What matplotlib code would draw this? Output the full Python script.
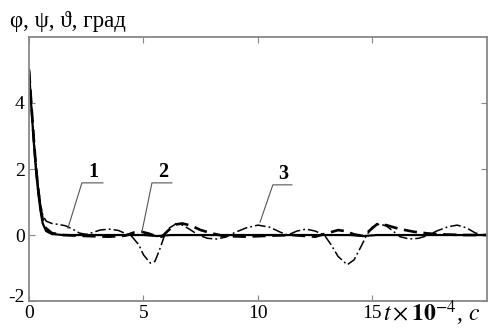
import matplotlib
matplotlib.use("Agg")
import matplotlib.pyplot as plt
import matplotlib.transforms as mtransforms

plt.rcParams['mathtext.fontset'] = 'stix'
plt.rcParams['font.family'] = ['Liberation Serif', 'DejaVu Serif']

# curve 1 (solid)
t1 = [0, 0.1, 0.2, 0.3, 0.4, 0.5, 0.6, 0.75, 1.0, 1.5, 3.0, 5.0, 5.6, 6.2,
      10.0, 14.0, 14.6, 15.2, 20.0]
y1 = [5.0, 3.9, 2.9, 2.0, 1.3, 0.75, 0.35, 0.12, 0.03, 0.0, 0.0, 0.0, -0.03, 0.0,
      0.0, 0.0, -0.03, 0.0, 0.0]

# curve 2 (dashed)
t2 = [0, 0.1, 0.2, 0.3, 0.4, 0.5, 0.6, 0.75, 1.0, 1.5, 2.5, 3.5, 4.2, 4.6, 4.9,
      5.2, 5.5, 5.8, 6.1, 6.4, 6.7, 7.1, 7.5, 8.0, 8.5, 9.5, 10.5, 11.5, 12.5,
      13.0, 13.5, 13.8, 14.2, 14.6, 14.9, 15.2, 15.6, 16.2, 16.8, 17.4, 18.0,
      19.0, 20.0]
y2 = [5.0, 4.0, 3.0, 2.1, 1.4, 0.85, 0.45, 0.2, 0.06, 0.0, -0.03, -0.05, -0.02,
      0.08, 0.1, 0.05, -0.02, -0.05, 0.15, 0.32, 0.35, 0.28, 0.15, 0.05, -0.03,
      -0.05, -0.02, 0.0, -0.05, 0.05, 0.15, 0.12, 0.02, -0.03, 0.15, 0.33, 0.3,
      0.18, 0.1, 0.05, 0.02, 0.0, 0.0]

# curve 3 (dash-dot)
t3 = [0, 0.1, 0.2, 0.3, 0.4, 0.5, 0.6, 0.75, 1.0, 1.3, 1.6, 1.9, 2.2, 2.5, 2.8,
      3.1, 3.5, 3.9, 4.2, 4.5, 4.8, 5.0, 5.3, 5.5, 5.7, 5.9, 6.1, 6.4, 6.7, 7.0,
      7.4, 7.8, 8.2, 8.6, 9.0, 9.5, 10.0, 10.5, 11.0, 11.3, 11.7, 12.1, 12.5,
      12.9, 13.2, 13.5, 13.9, 14.2, 14.5, 14.75, 15.0, 15.3, 15.6, 15.9, 16.2,
      16.6, 17.0, 17.4, 17.8, 18.3, 18.7, 19.1, 19.5, 19.8, 20.0]
y3 = [5.0, 4.0, 3.0, 2.2, 1.5, 0.95, 0.6, 0.42, 0.35, 0.32, 0.28, 0.18, 0.06,
      0.02, 0.08, 0.15, 0.18, 0.14, 0.05, -0.05, -0.3, -0.6, -0.85, -0.8, -0.45,
      -0.05, 0.2, 0.33, 0.3, 0.18, 0.0, -0.1, -0.12, -0.06, 0.08, 0.22, 0.3,
      0.24, 0.08, 0.0, 0.12, 0.18, 0.12, 0.0, -0.3, -0.65, -0.9, -0.75, -0.35,
      0.0, 0.25, 0.33, 0.28, 0.12, -0.05, -0.12, -0.1, -0.02, 0.12, 0.25, 0.3,
      0.22, 0.06, 0.0, 0.0]

x_ticks = [0, 5, 10, 15]
y_ticks = [-2, 0, 2, 4]

fig = plt.figure(figsize=(4.94, 3.36), dpi=100)
ax = fig.add_axes([0.0587, 0.104, 0.927, 0.786])

ax.plot(t1, y1, color='black', lw=1.6, ls='-')
ax.plot(t2, y2, color='black', lw=1.9, ls=(0, (5, 2.5)))
ax.plot(t3, y3, color='black', lw=1.1, ls=(0, (7, 2, 1.2, 2)))

ax.set_xlim(0, 20)
ax.set_ylim(-2, 6)
ax.set_xticks(x_ticks)
ax.set_yticks(y_ticks)
ax.set_xticklabels([str(v) for v in x_ticks], fontsize=14)
ax.set_yticklabels([str(v) for v in y_ticks], fontsize=14)
ax.tick_params(direction='in', length=4, width=0.8, color='#888888',
               top=True, right=True, pad=3)
for s in ax.spines.values():
    s.set_color('#888888')
    s.set_linewidth(1.3)

# shift the "-2" label up a little, like in the picture
lab = ax.get_yticklabels()[0]
lab.set_transform(lab.get_transform() +
                  mtransforms.ScaledTranslation(0, 4 / 72, fig.dpi_scale_trans))

fig.text(0.02, 0.905, "φ, ψ, ϑ, град", fontsize=16.5, ha='left', va='bottom')
fig.text(0.775, 0.025, r"$t\times\mathbf{10}^{-4}$, $c$", fontsize=17,
         ha='left', va='bottom')

# leader lines with numbers
labels = [("1", 2.31, 3.23, 1.58, 1.70, 0.21),
          ("2", 5.37, 6.24, 1.58, 4.93, 0.09),
          ("3", 10.65, 11.48, 1.52, 10.09, 0.39)]
for name, xa, xb, yl, xp, yp in labels:
    ax.plot([xp, xa, xb], [yp, yl, yl], color='#555555', lw=0.8)
    ax.text((xa + xb) / 2 + 0.05, yl + 0.04, name, fontsize=14.5,
            fontweight='bold', ha='center', va='bottom')

fig.savefig("out.png", dpi=100)
